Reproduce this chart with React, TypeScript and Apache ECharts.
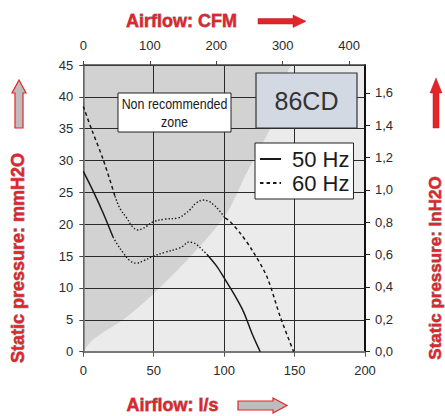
import React, { useEffect, useRef } from "react";
import * as echarts from "echarts";

// Airflow (l/s) vs static pressure (mmH2O)
const hz50Start: [number, number][] = [[0, 28.3], [7, 25.2], [14, 21.8], [21.1, 18.0]];
const hz50Stall: [number, number][] = [[21.1, 18.0], [24, 16.9], [28.4, 15.5], [33, 14.3], [37.9, 13.9], [43, 14.3], [49.8, 15.0], [58, 15.6], [67.5, 16.2], [71, 16.6], [74.6, 17.2], [78, 17.1], [80.6, 16.8], [84, 16.1], [87.7, 15.3]];
const hz50End: [number, number][] = [[87.7, 15.3], [94.8, 13.4], [100.2, 11.5], [106.6, 9.2], [113.7, 6.3], [119.7, 2.9], [125.6, 0]];
const hz60Start: [number, number][] = [[0, 38.5], [5.9, 34.9], [14.2, 30.1], [22.5, 24.4]];
const hz60Stall: [number, number][] = [[22.5, 24.4], [26, 22.5], [30.8, 21.0], [35, 19.6], [39.1, 19.1], [42, 19.3], [45, 19.7], [49.8, 20.4], [58, 20.8], [67.5, 21.0], [72, 21.6], [75.8, 22.3], [80, 23.3], [85.3, 23.8], [89, 23.6], [92.4, 23.1], [96, 22.3], [100.7, 21.0]];
const hz60End: [number, number][] = [[100.7, 21.0], [104.3, 20.4], [111.4, 18.6], [119.7, 16.0], [130.3, 11.8], [139.8, 5.5], [149.3, 0]];
// boundary of the non recommended zone
const zoneBoundary: [number, number][] = [[0, 0], [7, 1.9], [31, 5.5], [55, 10.2], [85, 17.1], [102, 21.8], [116, 28.1], [132.7, 35], [141, 39.5], [150, 45], [200, 45]];

const cfmTicks = [0, 100, 200, 300, 400];
const inH2OTicks = [0, 0.2, 0.4, 0.6, 0.8, 1.0, 1.2, 1.4, 1.6];
const LS_TO_CFM = 2.11888;
const MM_PER_IN = 25.4;
const X_MAX = 200;
const Y_MAX = 45;

const SANS = "'Liberation Sans', Arial, sans-serif";
const RED = "#e3242b";

export default function App() {
  const ref = useRef<HTMLDivElement>(null);
  useEffect(() => {
    document.body.style.margin = "0";
    const chart = echarts.init(ref.current!, undefined, { renderer: "svg" });
    const labelStyle = { color: "#2a2a2a", fontFamily: SANS, fontSize: 13 };
    const dotted = { color: "#1a1a1a", width: 1.4, type: [1.4, 2] as number[], cap: "butt" as const };
    chart.setOption({
      animation: false,
      backgroundColor: "#ffffff",
      grid: {
        left: 83.3, right: 80, top: 65, bottom: 64.3,
        show: true, backgroundColor: "#d2d2d2", borderWidth: 0, z: -2,
        outerBoundsMode: "none",
      },
      legend: {
        data: ["50 Hz", "60 Hz"],
        orient: "vertical",
        left: 255, top: 143,
        padding: [5, 4, 5, 4],
        itemGap: 2,
        itemWidth: 21, itemHeight: 14,
        backgroundColor: "#ffffff",
        borderColor: "#222", borderWidth: 1,
        selectedMode: false,
        itemStyle: { color: "rgba(0,0,0,0)", borderWidth: 0, opacity: 0 },
        textStyle: { color: "#1a1a1a", fontSize: 22, fontFamily: SANS, padding: [0, 0, 0, 6] },
      },
      xAxis: [
        {
          type: "value", position: "bottom", min: 0, max: X_MAX, interval: 50,
          axisLine: { show: true, lineStyle: { color: "#777", width: 2 } },
          axisTick: { show: true, length: 5, lineStyle: { color: "#555" } },
          axisLabel: { ...labelStyle, margin: 12 },
          splitLine: { show: true, lineStyle: { color: "#2a2a2a", width: 1 } },
        },
        {
          type: "value", position: "top", min: 0, max: X_MAX * LS_TO_CFM,
          axisLine: { show: true, onZero: false, lineStyle: { color: "#444", width: 1.5 } },
          axisTick: { show: true, length: 4, customValues: cfmTicks, lineStyle: { color: "#444" } },
          axisLabel: { ...labelStyle, margin: 13, customValues: cfmTicks },
          splitLine: { show: false },
        },
      ],
      yAxis: [
        {
          type: "value", position: "left", min: 0, max: Y_MAX, interval: 5,
          axisLine: { show: true, lineStyle: { color: "#777", width: 1.5 } },
          axisTick: { show: true, length: 4, lineStyle: { color: "#444" } },
          axisLabel: { ...labelStyle, margin: 10 },
          splitLine: { show: true, lineStyle: { color: "#2a2a2a", width: 1 } },
        },
        {
          type: "value", position: "right", min: 0, max: Y_MAX / MM_PER_IN,
          axisLine: { show: true, onZero: false, lineStyle: { color: "#111", width: 2 } },
          axisTick: { show: true, length: 5, customValues: inH2OTicks, lineStyle: { color: "#222" } },
          axisLabel: {
            ...labelStyle, margin: 10, customValues: inH2OTicks,
            formatter: (v: number) => v.toFixed(1).replace(".", ","),
          },
          splitLine: { show: false },
        },
      ],
      series: [
        {
          name: "zone", type: "line", data: zoneBoundary, smooth: 0.35, symbol: "none",
          lineStyle: { width: 0 }, areaStyle: { color: "#ebebeb", opacity: 1 }, silent: true, z: -1,
        },
        { name: "50 Hz", type: "line", data: hz50Start, symbol: "none", smooth: 0.3, lineStyle: { color: "#1a1a1a", width: 1.5, type: "solid" }, z: 3 },
        { name: "50 Hz", type: "line", data: hz50End, symbol: "none", smooth: 0.3, lineStyle: { color: "#1a1a1a", width: 1.5, type: "solid" }, z: 3 },
        { name: "50 Hz stall", type: "line", data: hz50Stall, symbol: "none", smooth: 0.4, lineStyle: dotted, z: 3 },
        { name: "60 Hz", type: "line", data: hz60Start, symbol: "none", smooth: 0.3, lineStyle: { color: "#1a1a1a", width: 1.5, type: [3.5, 3] }, z: 3 },
        { name: "60 Hz", type: "line", data: hz60End, symbol: "none", smooth: 0.3, lineStyle: { color: "#1a1a1a", width: 1.5, type: [3.5, 3] }, z: 3 },
        { name: "60 Hz stall", type: "line", data: hz60Stall, symbol: "none", smooth: 0.4, lineStyle: dotted, z: 3 },
      ],
      graphic: [
        // Non recommended zone label
        { type: "rect", z: 10, shape: { x: 118, y: 93, width: 113, height: 39 }, style: { fill: "#fff", stroke: "#222", lineWidth: 1 } },
        { type: "text", z: 11, x: 174.5, y: 113, scaleX: 0.83, style: { text: "Non recommended\nzone", align: "center", verticalAlign: "middle", font: `15px ${SANS}`, lineHeight: 18, fill: "#1a1a1a" } },
        // model box
        { type: "rect", z: 10, shape: { x: 256, y: 73, width: 101, height: 55 }, style: { fill: "#d2d9e2", stroke: "#333", lineWidth: 1.2 } },
        { type: "text", z: 11, x: 306.5, y: 101, style: { text: "86CD", align: "center", verticalAlign: "middle", font: `25px ${SANS}`, fill: "#333" } },
        // titles
        { type: "text", z: 11, x: 181.5, y: 21, style: { text: "Airflow: CFM", align: "center", verticalAlign: "middle", font: `bold 18px ${SANS}`, fill: RED, stroke: "#8c8c8c", lineWidth: 0.8 } },
        { type: "text", z: 11, x: 172.5, y: 405, style: { text: "Airflow: l/s", align: "center", verticalAlign: "middle", font: `bold 18px ${SANS}`, fill: RED, stroke: "#8c8c8c", lineWidth: 0.8 } },
        { type: "text", z: 11, x: 18, y: 258, rotation: Math.PI / 2, style: { text: "Static pressure: mmH2O", align: "center", verticalAlign: "middle", font: `bold 18px ${SANS}`, fill: RED, stroke: "#8c8c8c", lineWidth: 0.8 } },
        { type: "text", z: 11, x: 435, y: 268, rotation: Math.PI / 2, style: { text: "Static pressure: InH2O", align: "center", verticalAlign: "middle", font: `bold 17px ${SANS}`, fill: RED, stroke: "#8c8c8c", lineWidth: 0.8 } },
        // arrows
        { type: "polygon", z: 11, shape: { points: [[258, 18.5], [293, 18.5], [293, 15], [306, 21.3], [293, 27.5], [293, 24], [258, 24]] }, style: { fill: RED, stroke: "#c01818", lineWidth: 0.5 } },
        { type: "polygon", z: 11, shape: { points: [[238, 401], [273, 401], [273, 398], [287, 405.5], [273, 413], [273, 410], [238, 410]] }, style: { fill: "#bdbdbd", stroke: RED, lineWidth: 1.2 } },
        { type: "polygon", z: 11, shape: { points: [[19, 80], [26, 93], [23, 93], [23, 128], [15, 128], [15, 93], [12, 93]] }, style: { fill: "#bdbdbd", stroke: RED, lineWidth: 1.2 } },
        { type: "polygon", z: 11, shape: { points: [[436, 78], [442, 93], [439, 93], [439, 128], [433, 128], [433, 93], [430, 93]] }, style: { fill: RED, stroke: "#c01818", lineWidth: 0.5 } },
      ],
    });
    return () => chart.dispose();
  }, []);
  return <div ref={ref} style={{ width: 445, height: 416 }} />;
}
